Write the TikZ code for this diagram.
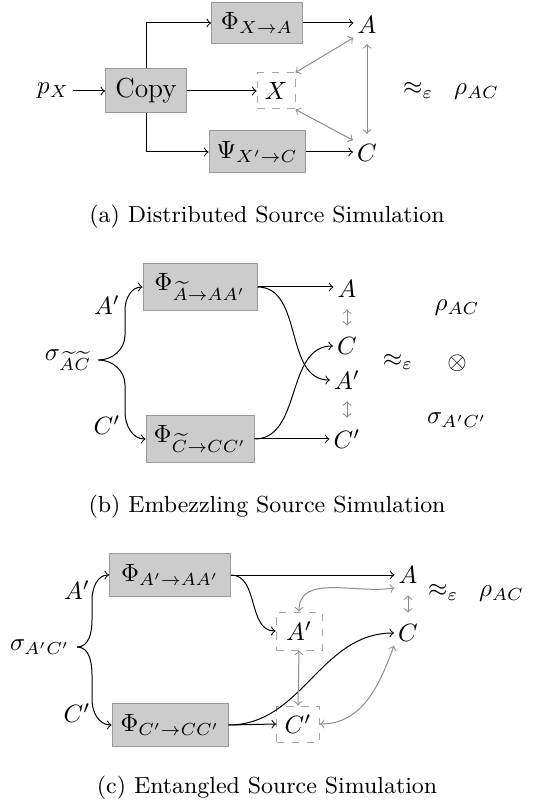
\documentclass[tikz,border=0pt]{standalone}
\usetikzlibrary{calc}
\begin{document}
\begin{tikzpicture}[x=0.4pt,y=-0.4pt,
  every node/.style={font=\normalsize},
  blk/.style={draw=gray!80, fill=gray!40, inner sep=0pt},
  dbox/.style={draw=gray!70, dashed, inner sep=0pt},
  lbl/.style={inner sep=1.5pt},
  captext/.style={font=\fontsize{9.3}{11}\selectfont},
  arr/.style={->},
  garr/.style={<->, draw=gray!90},
  shortgap/.style={shorten <=#1, shorten >=#1}]
\useasboundingbox (0,0) rectangle (535,810);
% ---------- (a)
\node[lbl] (pX) at (53,91) {$p_X$};
\node[blk, minimum width=32.4pt, minimum height=17.6pt, font=\fontsize{11}{13}\selectfont] (copy) at (146,91) {Copy};
\node[blk, minimum width=36.4pt, minimum height=16.4pt] (phiA) at (257,23) {$\Phi_{X\to A}$};
\node[dbox, minimum width=15.2pt, minimum height=14.4pt] (xb) at (276,91) {$X$};
\node[blk, minimum width=38.4pt, minimum height=16.8pt] (psiC) at (257,152) {$\Psi_{X'\to C}$};
\node[lbl] (aA) at (367,25) {$A$};
\node[lbl] (aC) at (367,153) {$C$};
\node (aap) at (451,91) {$\approx_\varepsilon\;\;\rho_{AC}$};
\node[captext] (capa) at (267,217) {(a) Distributed Source Simulation};
\draw[arr] (pX) -- (copy);
\draw[arr] (copy.north) |- (phiA.west);
\draw[arr] (copy.south) |- (psiC.west);
\draw[arr] (copy.east) -- (xb.west);
\draw[arr] (phiA.east) -- (aA.west |- phiA.east);
\draw[arr] (psiC.east) -- (aC.west |- psiC.east);
\draw[garr] (xb.north east) -- (aA.south west);
\draw[garr] (xb.south east) -- (aC.north west);
\draw[garr, shortgap=2.5pt] (aA.south) -- (aC.north);
% ---------- (b)
\node[blk, minimum width=45.6pt, minimum height=18.8pt] (bU) at (200,287) {$\Phi_{\widetilde{A}\to AA'}$};
\node[blk, minimum width=43.2pt, minimum height=18.4pt] (bL) at (200,439) {$\Phi_{\widetilde{C}\to CC'}$};
\node[lbl] (bs) at (68,360) {$\sigma_{\widetilde{A}\widetilde{C}}$};
\node (bAl) at (107,305) {$A'$};
\node (bCl) at (107,425) {$C'$};
\node[lbl] (bA) at (347,289) {$A$};
\node[lbl] (bC) at (347,346) {$C$};
\node[lbl] (bAp) at (347,380) {$A'$};
\node[lbl] (bCp) at (347,439) {$C'$};
\node (brho) at (457,308) {$\rho_{AC}$};
\node (botimes) at (457,363) {$\otimes$};
\node (bsig) at (457,420) {$\sigma_{A'C'}$};
\node (bap) at (398,362) {$\approx_\varepsilon$};
\node[captext] (capb) at (267,507) {(b) Embezzling Source Simulation};
\coordinate (bsE) at ($(bs.east)+(3,0)$);
\draw[arr] (bsE) to[out=0,in=-90] (125,335) -- (125,310) to[out=90,in=180] (bU.west);
\draw[arr] (bsE) to[out=0,in=90] (125,385) -- (125,412) to[out=-90,in=180] (bL.west);
\draw[arr] (bU.east) -- (bA.west |- bU.east);
\draw[arr] (bL.east) -- (bCp.west |- bL.east);
\draw[arr] (bU.east) to[out=0,in=180] (bAp.west);
\draw[arr] (bL.east) to[out=0,in=180] (bC.west);
\draw[garr, shortgap=3pt] (bA.south) -- (bC.north);
\draw[garr, shortgap=3pt] (bAp.south) -- (bCp.north);
% ---------- (c)
\node[blk, minimum width=48.4pt, minimum height=17.2pt] (cU) at (170,575) {$\Phi_{A'\to AA'}$};
\node[blk, minimum width=46.4pt, minimum height=17.2pt] (cL) at (170,725) {$\Phi_{C'\to CC'}$};
\node[lbl] (cs) at (40,647) {$\sigma_{A'C'}$};
\node (cAl) at (77,590) {$A'$};
\node (cCl) at (77,713) {$C'$};
\node[lbl] (cA) at (408,575) {$A$};
\node[lbl] (cC) at (408,633) {$C$};
\node[dbox, minimum width=18.4pt, minimum height=15.2pt] (cAp) at (299,631) {$A'$};
\node[dbox, minimum width=17.2pt, minimum height=14.4pt] (cCp) at (298,724) {$C'$};
\node (capx) at (476,593) {$\approx_\varepsilon\;\;\rho_{AC}$};
\node[captext] (capc) at (267,788) {(c) Entangled Source Simulation};
\coordinate (csE) at ($(cs.east)+(3,0)$);
\draw[arr] (csE) to[out=0,in=-90] (92,620) -- (92,600) to[out=90,in=180] (cU.west);
\draw[arr] (csE) to[out=0,in=90] (92,675) -- (92,700) to[out=-90,in=180] (cL.west);
\draw[arr] (cU.east) -- (cA.west |- cU.east);
\draw[arr] (cU.east) to[out=0,in=180] (cAp.west);
\draw[arr] (cL.east) -- (cCp.west);
\draw[arr] (cL.east) to[out=0,in=180] (cC.west);
\draw[garr] (cAp.north) to[out=90,in=190] (cA.south west);
\draw[garr] (cCp.east) to[out=0,in=-110] (cC.south west);
\draw[garr] (cAp.south) -- (cCp.north);
\draw[garr, shortgap=3pt] (cA.south) -- (cC.north);
\end{tikzpicture}
\end{document}
